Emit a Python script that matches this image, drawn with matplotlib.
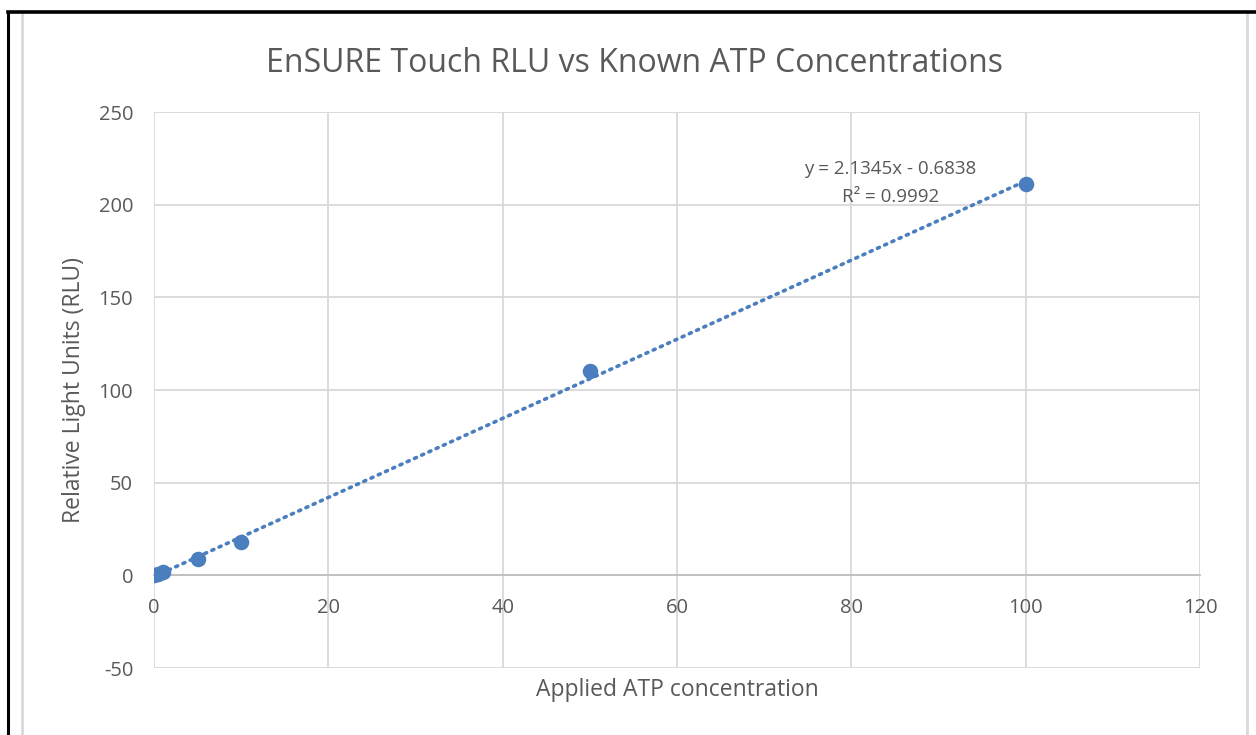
import matplotlib.pyplot as plt
from matplotlib.lines import Line2D

# data
atp_conc = [0, 0.5, 1, 5, 10, 50, 100]
rlu = [0, 0.5, 2, 9, 18, 110, 211]
slope = 2.1345
intercept = -0.6838
r_squared = 0.9992

blue = '#4A7EBF'
grey_text = '#595959'
grid_col = '#D9D9D9'

plt.rcParams['font.family'] = ['Open Sans', 'DejaVu Sans']
plt.rcParams['axes.unicode_minus'] = False

fig = plt.figure(figsize=(12.56, 7.35), dpi=100)
W, H = 1256, 735
ax = fig.add_axes([154 / W, 1 - 668 / H, (1200 - 154) / W, (668 - 112) / H])

ax.scatter(atp_conc, rlu, s=125, color=blue, zorder=3, linewidths=0)

# linear trendline
xs = [min(atp_conc), max(atp_conc)]
ax.plot(xs, [slope * x + intercept for x in xs], color=blue, lw=2.6,
        linestyle=(0, (0.6, 1.6)), dash_capstyle='round', zorder=2)

ax.set_xlim(0, 120)
ax.set_ylim(-50, 250)
ax.set_xticks(range(0, 121, 20))
ax.set_yticks(range(-50, 251, 50))
ax.grid(True, color=grid_col, lw=1.3)
ax.set_axisbelow(True)

for s in ['top', 'right', 'left']:
    ax.spines[s].set_visible(False)
ax.spines['bottom'].set_position(('data', 0))
ax.spines['bottom'].set_color('#BFBFBF')
ax.spines['bottom'].set_linewidth(1.3)
ax.spines['bottom'].set_zorder(1)

ax.tick_params(length=0, labelsize=14.5, labelcolor=grey_text)
ax.tick_params(axis='y', pad=15)
ax.tick_params(axis='x', pad=16)

ax.set_xlabel('Applied ATP concentration', fontsize=16.5, color=grey_text)
ax.xaxis.label.set_verticalalignment('center')
ax.xaxis.set_label_coords(0.5, (668 - 690) / (668 - 112))
ax.set_ylabel('Relative Light Units (RLU)', fontsize=16.5, color=grey_text)
ax.yaxis.label.set_verticalalignment('center')
ax.yaxis.set_label_coords((74 - 154) / (1200 - 154), 0.5)

# title is centred on the chart area, not on the plot area
ax.set_title('EnSURE Touch RLU vs Known ATP Concentrations', fontsize=23,
             color=grey_text, pad=29, x=(635 - 154) / (1200 - 154))

ax.text(0.704, 0.872, f'y = {slope}x - {abs(intercept)}\nR² = {r_squared}',
        transform=ax.transAxes, ha='center', va='center', fontsize=13.5,
        color=grey_text, linespacing=1.75)

# chart area border (light grey) and page border (black)
fig.add_artist(Line2D([22 / W, 22 / W], [0, 1 - 13 / H], color='#D9D9D9', lw=2))
fig.add_artist(Line2D([1247 / W, 1247 / W], [0, 1 - 13 / H], color='#D9D9D9', lw=2))
fig.add_artist(Line2D([8 / W, 8 / W], [0, 1 - 12 / H], color='black', lw=2.2))
fig.add_artist(Line2D([8 / W, 1], [1 - 12 / H, 1 - 12 / H], color='black', lw=2.6))

fig.savefig('out.png', dpi=100)
